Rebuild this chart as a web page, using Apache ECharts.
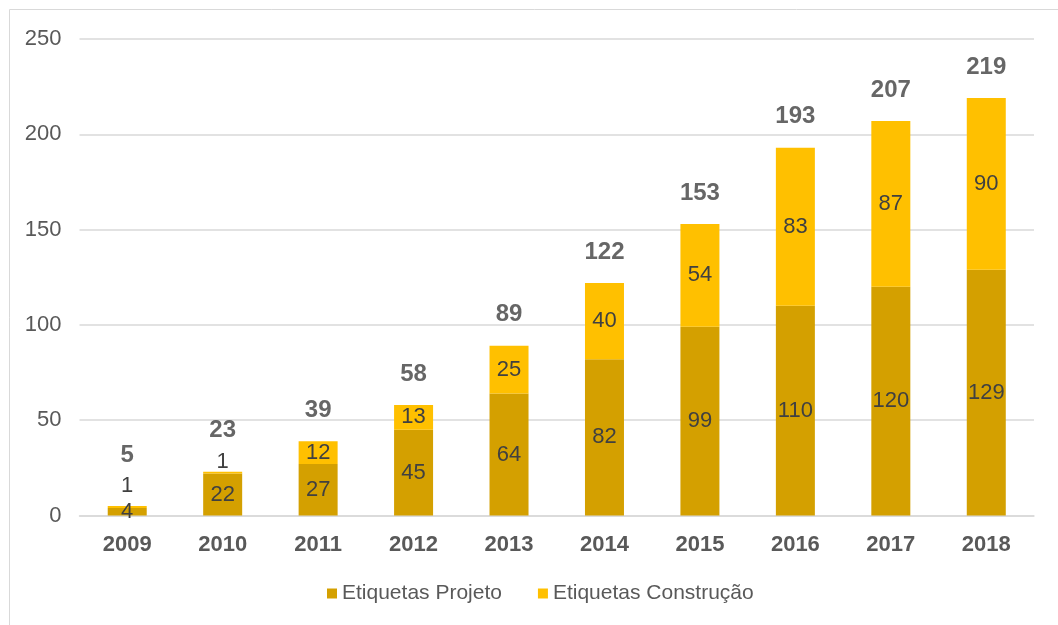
<!DOCTYPE html>
<html>
<head>
<meta charset="utf-8">
<script src="https://cdn.jsdelivr.net/npm/echarts@6/dist/echarts.min.js"></script>
<style>html,body{margin:0;padding:0;background:#fff;}#chart{width:1058px;height:625px;}</style>
</head>
<body>
<div id="chart"></div>
<script>
const categories = ['2009','2010','2011','2012','2013','2014','2015','2016','2017','2018'];
const projeto = [4, 22, 27, 45, 64, 82, 99, 110, 120, 129];
const construcao = [1, 1, 12, 13, 25, 40, 54, 83, 87, 90];
const totals = [5, 23, 39, 58, 89, 122, 153, 193, 207, 219];
const yTicks = [0, 50, 100, 150, 200, 250];
const seriesNames = ['Etiquetas Projeto', 'Etiquetas Construção'];

// label nudges for the two smallest stacks (moved up in the original)
const construcaoOffsets = {0: -21, 1: -11};
const totalOffsets = {0: -20, 1: -10};

const chart = echarts.init(document.getElementById('chart'));
const font = 'Liberation Sans, Arial, sans-serif';

chart.setOption({
  animation: false,
  graphic: [{
    type: 'rect', silent: true,
    shape: {x: 9.5, y: 9.5, width: 2000, height: 2000},
    style: {fill: 'none', stroke: '#d9d9d9', lineWidth: 1}
  }],
  grid: {left: 79.5, right: 24, top: 39, bottom: 109.5},
  legend: {
    data: seriesNames,
    bottom: 16,
    left: 322,
    itemWidth: 10, itemHeight: 10, itemGap: 36,
    icon: 'rect',
    textStyle: {color: '#595959', fontSize: 21, fontFamily: font}
  },
  xAxis: {
    type: 'category',
    data: categories,
    axisLine: {show: true, lineStyle: {color: '#d9d9d9', width: 1.5}},
    axisTick: {show: false},
    axisLabel: {color: '#595959', fontSize: 22, fontWeight: 'bold', fontFamily: font, margin: 18}
  },
  yAxis: {
    type: 'value',
    min: yTicks[0], max: yTicks[yTicks.length - 1], interval: 50,
    axisLine: {show: false},
    axisTick: {show: false},
    splitLine: {lineStyle: {color: '#d9d9d9', width: 1.5}},
    axisLabel: {color: '#595959', fontSize: 22, fontFamily: font, margin: 18}
  },
  series: [
    {
      name: seriesNames[0], type: 'bar', stack: 'a', barWidth: 39,
      itemStyle: {color: '#D4A000'},
      label: {show: true, position: 'inside', color: '#404040', fontSize: 22, fontFamily: font},
      data: projeto
    },
    {
      name: seriesNames[1], type: 'bar', stack: 'a', barWidth: 39,
      itemStyle: {color: '#FFC000'},
      label: {show: true, position: 'inside', color: '#404040', fontSize: 22, fontFamily: font},
      data: construcao.map((v, i) => construcaoOffsets[i] !== undefined
        ? {value: v, label: {offset: [0, construcaoOffsets[i]]}} : v)
    },
    {
      name: 'Total', type: 'scatter', symbolSize: 0, silent: true,
      label: {show: true, position: 'top', distance: 19, color: '#404040', fontSize: 24, fontWeight: 'bold', fontFamily: font},
      data: totals.map((v, i) => totalOffsets[i] !== undefined
        ? {value: v, label: {offset: [0, totalOffsets[i]]}} : v)
    }
  ]
});
</script>
</body>
</html>
